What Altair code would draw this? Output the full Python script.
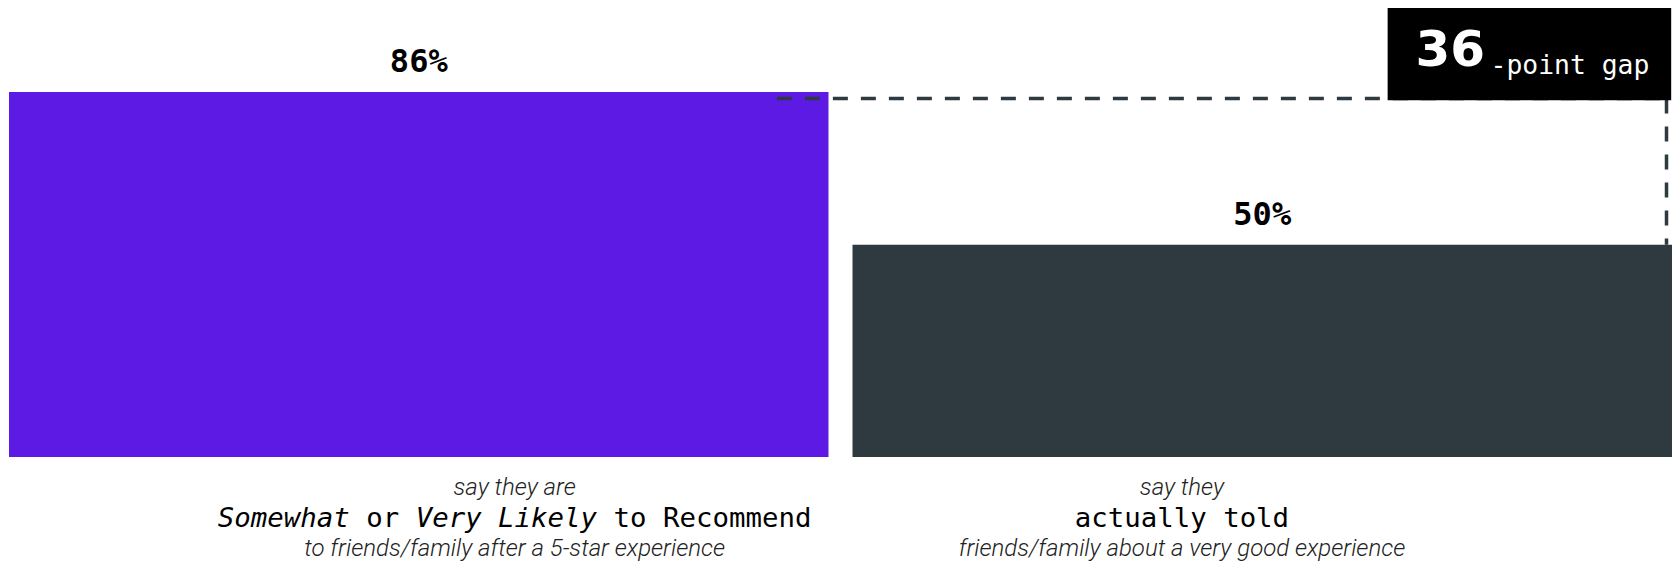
import altair as alt
import pandas as pd

# ---- data ----
categories = ["recommend", "told"]
values = [86, 50]
value_labels = ["86%", "50%"]
bar_colors = ["#5E1AE5", "#2F3A40"]
gap_number = "36"
gap_suffix = "-point gap"

top_lines = ["say they are", "say they"]
mid_segments = [
    [("Somewhat", "italic"), (" or ", "normal"), ("Very Likely", "italic"), (" to Recommend", "normal")],
    [("actually told", "normal")],
]
bottom_lines = ["to friends/family after a 5-star experience",
                "friends/family about a very good experience"]

# ---- styling ----
Y_MAX = 105.8
MONO = "DejaVu Sans Mono"
SANS = "Roboto"
LINE_COLOR = "#2F3A40"
caption_band = [0.617, 0.402]
mid_size = 27.4
char_w = 0.602 * mid_size
cap_size = 24

xscale = alt.Scale(domain=categories, paddingInner=0.02845, paddingOuter=0)
yscale = alt.Scale(domain=[0, Y_MAX], nice=False, zero=True)

bars_df = pd.DataFrame({"cat": categories, "value": values, "label": value_labels})

base = alt.Chart(bars_df)
bars = base.mark_bar().encode(
    x=alt.X("cat:N", scale=xscale, axis=None),
    y=alt.Y("value:Q", scale=yscale, axis=None),
    color=alt.Color("cat:N", scale=alt.Scale(domain=categories, range=bar_colors), legend=None),
)
labels = base.mark_text(font=MONO, fontWeight="bold", fontSize=32, baseline="alphabetic",
                        dy=-20, color="black").encode(
    x="cat:N", y="value:Q", text="label:N")

line_y = values[0] - 1.53
gap_df = pd.DataFrame({"start": [categories[0]], "end": [categories[1]],
                       "ly": [line_y], "low": [values[1]],
                       "top": [Y_MAX], "boxbottom": [line_y - 0.4],
                       "num": [gap_number], "suffix": [gap_suffix]})
gbase = alt.Chart(gap_df)
hline = gbase.mark_rule(strokeDash=[15, 13], strokeWidth=3.5, color=LINE_COLOR).encode(
    x=alt.X("start:N", bandPosition=0.937),
    x2=alt.X2("end:N", bandPosition=0.9933),
    y="ly:Q")
vline = gbase.mark_rule(strokeDash=[15, 13], strokeWidth=3.5, color=LINE_COLOR).encode(
    x=alt.X("end:N", bandPosition=0.9933),
    y="ly:Q", y2="low:Q")
box = gbase.mark_rect(color="black").encode(
    x=alt.X("end:N", bandPosition=0.653),
    x2=alt.X2("end:N", bandPosition=0.999),
    y="top:Q", y2="boxbottom:Q")
num_text = gbase.mark_text(font="DejaVu Sans", fontWeight="bold", fontSize=50, color="white",
                           align="left", baseline="alphabetic", dy=-33).encode(
    x=alt.X("end:N", bandPosition=0.687), y="ly:Q", text="num:N")
suffix_text = gbase.mark_text(font=MONO, fontSize=26.4, color="white",
                              align="left", baseline="alphabetic", dx=75, dy=-25).encode(
    x=alt.X("end:N", bandPosition=0.687), y="ly:Q", text="suffix:N")

layers = [bars, labels, hline, vline, box, num_text, suffix_text]

for i, cat in enumerate(categories):
    cdf = pd.DataFrame({"cat": [cat], "zero": [0], "t1": [top_lines[i]], "t3": [bottom_lines[i]]})
    cb = alt.Chart(cdf)
    xpos = alt.X("cat:N", bandPosition=caption_band[i])
    layers.append(cb.mark_text(font=SANS, fontWeight=300, fontStyle="italic", fontSize=cap_size,
                               color="#222222", baseline="middle", dy=31).encode(
        x=xpos, y="zero:Q", text="t1:N"))
    layers.append(cb.mark_text(font=SANS, fontWeight=300, fontStyle="italic", fontSize=cap_size,
                               color="#222222", baseline="middle", dy=92).encode(
        x=xpos, y="zero:Q", text="t3:N"))
    segs = mid_segments[i]
    total = sum(len(s) for s, _ in segs)
    pos = 0
    for seg, style in segs:
        lead = len(seg) - len(seg.lstrip())
        sdf = pd.DataFrame({"cat": [cat], "zero": [0], "t": [seg.strip()]})
        layers.append(alt.Chart(sdf).mark_text(font=MONO, fontStyle=style, fontSize=mid_size,
                                               color="black", align="left", baseline="middle",
                                               dx=(pos + lead - total / 2) * char_w, dy=62).encode(
            x=xpos, y="zero:Q", text="t:N"))
        pos += len(seg)

chart = alt.layer(*layers).properties(
    width=1663, height=449,
    padding={"left": 1, "top": 0, "right": 0, "bottom": 0},
).configure_view(stroke=None)

chart.save("out.html", embed_options={"renderer": "svg", "actions": False})
